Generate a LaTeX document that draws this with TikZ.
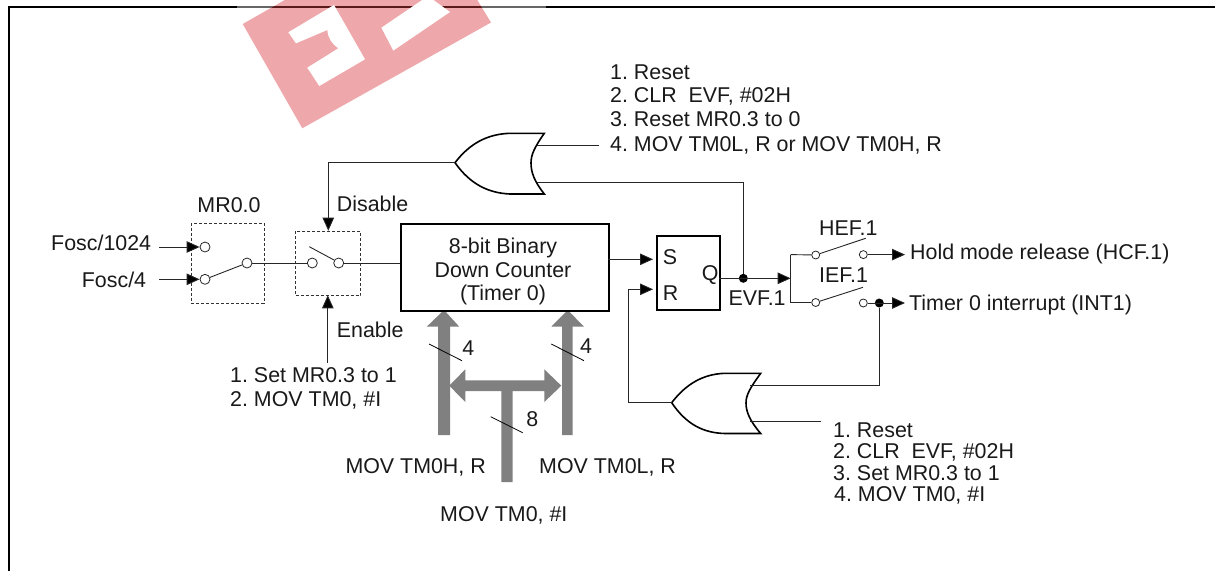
\documentclass[tikz,border=0pt]{standalone}
\usepackage{fontspec}
\setmainfont{Liberation Sans}
\usetikzlibrary{arrows.meta}
\definecolor{wm}{HTML}{EEA8AB}
\definecolor{wmline}{HTML}{5A1A1C}
\definecolor{bus}{HTML}{808080}
\tikzset{
  x=1pt,y=-1pt,
  wire/.style={line width=0.9pt,draw=black!85},
  arr/.style={wire,-{Triangle[length=13pt,width=11.5pt,fill=black]}},
  lab/.style={font=\fontsize{21.4}{23.5}\selectfont\frenchspacing,text=black!90,inner sep=0pt,anchor=west,text height=15.5pt,text depth=0pt},
  labc/.style={lab,anchor=center,align=center},
  dashbox/.style={draw=black!80,densely dashed,line width=0.7pt,inner sep=0pt,anchor=north west},
  thickbox/.style={draw=black,line width=2pt,inner sep=0pt,anchor=north west},
  pin/.style={circle,draw=black!85,line width=0.8pt,fill=white,inner sep=0pt,minimum size=10pt},
  pinS/.style={pin,minimum size=8pt},
  dot/.style={circle,fill=black,inner sep=0pt,minimum size=9pt},
  busfill/.style={fill=bus,draw=none},
  tick/.style={line width=0.8pt,draw=black},
  gate/.style={draw=black,line width=1.6pt,fill=white,line join=miter},
}
\begin{document}
\begin{tikzpicture}
\useasboundingbox (0,0) rectangle (1215,571);
% frame
\draw[line width=2pt,black] (1215,6.5) -- (8.5,6.5) -- (8.5,571);
\fill[white,opacity=.4] (237,5) rectangle (546,8);
% watermark
\def\wmpoly{(242.7,24) -- (284.8,0) -- (477.3,0) -- (491,22.5) -- (302.3,128.3) -- cycle}
\fill[wm] \wmpoly;
\begin{scope}
 \clip \wmpoly;
 \draw[line width=2pt,wmline] (237,6.5) -- (546,6.5);
\end{scope}
\fill[white] (288.3,32.3) -- (334,5) -- (365,59.3) -- (319.3,86) -- (307.3,67.7) -- (338.3,48.3)
   .. controls (332,44) and (328,38) .. (327.3,30) -- (296,43.3) -- cycle;
\fill[white] (381.4,27.7) -- (428,-4) -- (450,12) -- (393.3,50.6) -- cycle;

% buses
\fill[busfill] (444,310) -- (459.3,326.7) -- (450,326.7) -- (450,435) -- (438,435) -- (438,326.7) -- (426.7,326.7) -- cycle;
\fill[busfill] (567.7,310) -- (584,326.7) -- (572.7,326.7) -- (572.7,435) -- (562,435) -- (562,326.7) -- (551.3,326.7) -- cycle;
\fill[busfill] (449.3,385.7) -- (465.3,369.3) -- (465.3,380.3) -- (544.3,380.3) -- (544.3,369.3) -- (561.3,385.7) -- (544.3,402) -- (544.3,391) -- (512.7,391) -- (512.7,482) -- (501.3,482) -- (501.3,391) -- (465.3,391) -- (465.3,402) -- cycle;

% boxes
\node[dashbox,minimum width=72.7pt,minimum height=80pt] (mr) at (191,222.7) {};
\node[dashbox,minimum width=65pt,minimum height=64.6pt] (en) at (295.3,230.7) {};
\node[thickbox,minimum width=208pt,minimum height=87pt,align=center] (cnt) at (400,223) {};
\node[thickbox,minimum width=63pt,minimum height=74pt] (sr) at (656,235) {};

% named points
\coordinate (f1) at (159,247); \coordinate (f2) at (159,279.3);
\node[pin] (a1) at (205,247) {};
\node[pin] (a2) at (205,279.3) {};
\node[pin] (a3) at (247,263) {};
\node[pin] (b1) at (312.3,263) {};
\node[pin] (b2) at (338.7,263) {};
\coordinate (armA) at (309.3,246.7); \coordinate (armB) at (334,260);
\coordinate (en1) at (327.8,295.3); \coordinate (en0) at (327.8,362.7);
\coordinate (dis) at (328.3,230.7);
\coordinate (cntS) at (608,259.3); \coordinate (sS) at (653,259.3);
\coordinate (sR) at (653,289.3); \coordinate (rUp) at (628.3,289.3); \coordinate (rDn) at (628.3,402.7);
\coordinate (qO) at (719,278.3); \node[dot] (qd) at (743.3,278.3) {};
\coordinate (split) at (790.7,278.3);
\coordinate (spT) at (790.7,254.6); \coordinate (spB) at (790.7,302.5);
\node[pinS] (h1) at (815.7,255) {};
\node[pinS] (i1) at (815.7,302.5) {};
\node[pinS] (h2) at (863.3,254.6) {};
\node[pinS] (i2) at (863.3,303) {};
\coordinate (hT) at (905,254.6); \coordinate (iT) at (905,303);
\node[dot] (id) at (879.3,303) {};
\coordinate (armH) at (865.7,238.3); \coordinate (armI) at (863,287.3);

% gates
\coordinate (g1t) at (455,162.7);
\coordinate (g1o) at (537,182);
\coordinate (g1i) at (599,145.7); \coordinate (g1ii) at (536.5,145.7);
\coordinate (g2t) at (671.7,402.7);
\coordinate (g2o) at (750,385.7);
\coordinate (g2i) at (821,421); \coordinate (g2ii) at (750,421);
\draw[gate] (g1t) .. controls (470,143) and (488,134) .. (510,133.3) -- (544.3,133.3)
  .. controls (534,148) and (531,155) .. (531,163) .. controls (531,172) and (534,181) .. (544.3,194)
  -- (510,194) .. controls (488,193) and (470,184) .. (g1t) -- cycle;
\draw[gate] (g2t) .. controls (686,384) and (703,374) .. (725,373.3) -- (760.7,373.3)
  .. controls (750,388) and (746,395) .. (746,403) .. controls (746,412) and (750,421) .. (760.7,433.5)
  -- (725,433.5) .. controls (703,433) and (686,424) .. (g2t) -- cycle;

% connectors
\draw[arr] (f1) -- (a1);
\draw[arr] (f2) -- (a2);
\draw[wire] (a2) -- (a3);
\draw[wire] (a3) -- (b1);
\draw[wire] (armA) -- (armB);
\draw[wire] (b2) -- (b2 -| cnt.west);
\draw[arr] (g1t) -- (dis |- g1t) -- (dis);
\draw[arr] (en0) -- (en1);
\draw[arr] (cntS) -- (sS);
\draw[arr] (g2t) -- (rDn) -- (rUp) -- (sR);
\draw[arr] (qO) -- (split);
\draw[wire] (qd) -- (qd |- g1o) -- (g1o);
\draw[wire] (spT) -- (spB);
\draw[wire] (spT) -- (h1);
\draw[wire] (spB) -- (i1);
\draw[wire] (h1) -- (armH);
\draw[wire] (i1) -- (armI);
\draw[arr] (h2) -- (hT);
\draw[arr] (i2) -- (iT);
\draw[wire] (id) -- (id |- g2o) -- (g2o);
\draw[wire] (g1ii) -- (g1i);
\draw[wire] (g2ii) -- (g2i);

% ticks
\draw[tick] (429,344) -- (462,360.7);
\draw[tick] (551.3,344) -- (584,360.7);
\draw[tick] (490.7,416.7) -- (522.7,432.7);

% labels
\node[labc] (tmr0) at (229,205) {MR0.0};
\node[lab] (tfa) at (51,242.7) {Fosc/1024};
\node[lab] (tfb) at (81.7,280) {Fosc/4};
\node[lab] (tdis) at (336.7,204) {Disable};
\node[lab] (tena) at (336.7,330) {Enable};
\node[lab] (tset1) at (230,375) {1. Set MR0.3 to 1};
\node[lab] (tset2) at (230,399) {2. MOV TM0, \#I};
\node[labc] (tc1) at (503,246) {8-bit Binary};
\node[labc] (tc2) at (503,270) {Down Counter};
\node[labc] (tc3) at (503,293) {(Timer 0)};
\node[lab] (ts) at (662.7,257) {S};
\node[lab] (tr) at (662.7,293) {R};
\node[lab] (tq) at (701.7,273) {Q};
\node[lab] (tevf) at (728.3,297.7) {EVF.1};
\node[lab] (thef) at (819,228) {HEF.1};
\node[lab] (tief) at (819,275) {IEF.1};
\node[lab] (thold) at (910,252) {Hold mode release (HCF.1)};
\node[lab] (ttim) at (909,303) {Timer 0 interrupt (INT1)};
\node[lab] (tt1) at (610,71.7) {1. Reset};
\node[lab] (tt2) at (610,95) {2. CLR\ \ EVF, \#02H};
\node[lab] (tt3) at (610,118.3) {3. Reset MR0.3 to 0};
\node[lab] (tt4) at (610,143.3) {4. MOV TM0L, R or MOV TM0H, R};
\node[lab] (tb1) at (833,430) {1. Reset};
\node[lab] (tb2) at (833,450.7) {2. CLR\ \ EVF, \#02H};
\node[lab] (tb3) at (833,472.8) {3. Set MR0.3 to 1};
\node[lab] (tb4) at (834,494) {4. MOV TM0, \#I};
\node[labc] (t4a) at (468.3,347.7) {4};
\node[labc] (t4b) at (586,345.7) {4};
\node[labc] (t8) at (532.3,418.3) {8};
\node[lab,anchor=east] (tl) at (486,466) {MOV TM0H, R};
\node[lab] (trr) at (539,466) {MOV TM0L, R};
\node[lab] (tm) at (440,514) {MOV TM0, \#I};
\end{tikzpicture}
\end{document}
